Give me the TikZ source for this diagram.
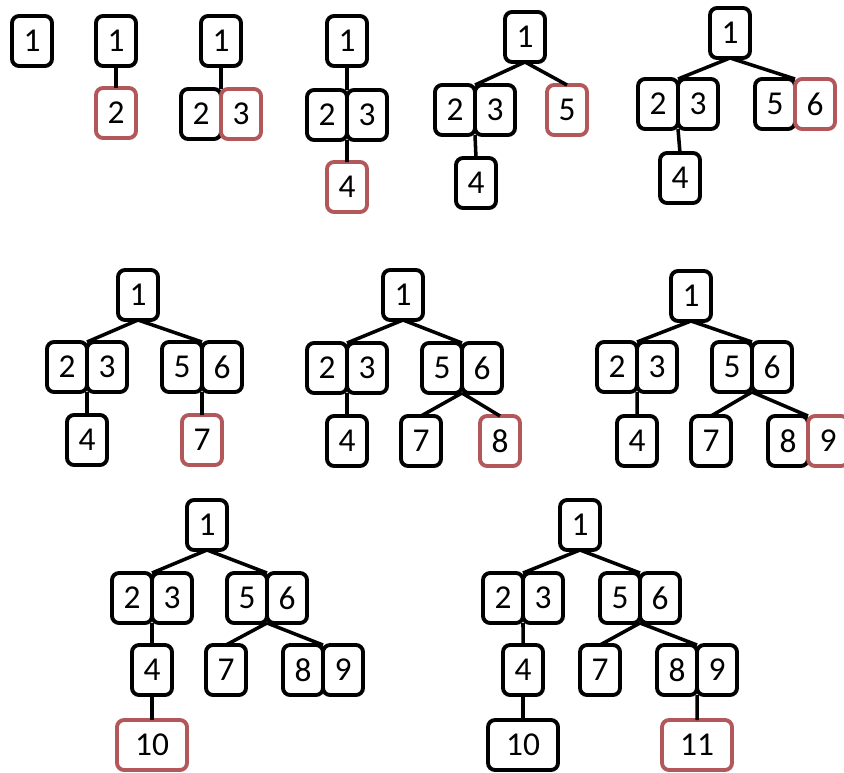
\documentclass[tikz,border=0pt]{standalone}
\usepackage{fontspec}
\setmainfont{Carlito}
\usepackage{tikz}
\definecolor{newred}{HTML}{B3585A}
\tikzset{
  every picture/.style={line join=round, line cap=butt},
  key/.style={draw=black, fill=white, line width=2.2pt, rounded corners=4pt,
    minimum width=0.8cm, minimum height=1.0cm, inner sep=0pt, outer sep=0pt,
    font=\fontsize{19}{22}\selectfont},
  newkey/.style={key, draw=newred},
  wide/.style={minimum width=1.4cm},
  link/.style={line width=2pt},
}

\begin{document}
\begin{tikzpicture}[x=0.02cm,y=-0.02cm]
\useasboundingbox (0,0) rectangle (844,773);
% step 1
\node[key] (a1) at (32,41) {1};
% step 2
\node[key] (b1) at (116,41) {1};
\node[newkey] (b2) at (116,113) {2};
\draw[link] (b1.south) -- (b2.north);
% step 3
\node[key] (c1) at (221,41) {1};
\node[key] (c2) at (201,114) {2};
\node[newkey] (c3) at (241,114) {3};
\draw[link] (c1.south) -- (c2.north east);
% step 4
\node[key] (d1) at (347,41) {1};
\node[key] (d2) at (327,115) {2};
\node[key] (d3) at (367,115) {3};
\node[newkey] (d4) at (347,187) {4};
\draw[link] (d1.south) -- (d2.north east);
\draw[link] (d2.south east) -- (d4.north);
% step 5
\node[key] (e1) at (525,37) {1};
\node[key] (e2) at (455,110) {2};
\node[key] (e3) at (495,110) {3};
\node[newkey] (e5) at (567,110) {5};
\node[key] (e4) at (476,183) {4};
\draw[link] (e1.south) -- (e2.north east);
\draw[link] (e1.south) -- (e5.north);
\draw[link] (e2.south east) -- (e4.north);
% step 6
\node[key] (f1) at (730,33) {1};
\node[key] (f2) at (658,104) {2};
\node[key] (f3) at (698,104) {3};
\node[key] (f5) at (775,104) {5};
\node[newkey] (f6) at (815,104) {6};
\node[key] (f4) at (680,178) {4};
\draw[link] (f1.south) -- (f2.north east);
\draw[link] (f1.south) -- (f5.north east);
\draw[link] (f2.south east) -- (f4.north);
% step 7
\node[key] (g1) at (138,295) {1};
\node[key] (g2) at (67,367) {2};
\node[key] (g3) at (107,367) {3};
\node[key] (g5) at (182,367) {5};
\node[key] (g6) at (222,367) {6};
\node[key] (g4) at (87,440) {4};
\node[newkey] (g7) at (202,440) {7};
\draw[link] (g1.south) -- (g2.north east);
\draw[link] (g1.south) -- (g5.north east);
\draw[link] (g2.south east) -- (g4.north);
\draw[link] (g5.south east) -- (g7.north);
% step 8
\node[key] (h1) at (403,295) {1};
\node[key] (h2) at (327,368) {2};
\node[key] (h3) at (367,368) {3};
\node[key] (h5) at (442,368) {5};
\node[key] (h6) at (482,368) {6};
\node[key] (h4) at (347,441) {4};
\node[key] (h7) at (421,441) {7};
\node[newkey] (h8) at (500,441) {8};
\draw[link] (h1.south) -- (h2.north east);
\draw[link] (h1.south) -- (h5.north east);
\draw[link] (h2.south east) -- (h4.north);
\draw[link] (h5.south east) -- (h7.north);
\draw[link] (h5.south east) -- (h8.north);
% step 9
\node[key] (i1) at (691,296) {1};
\node[key] (i2) at (617,367) {2};
\node[key] (i3) at (657,367) {3};
\node[key] (i5) at (732,367) {5};
\node[key] (i6) at (772,367) {6};
\node[key] (i4) at (637,441) {4};
\node[key] (i7) at (711,441) {7};
\node[key] (i8) at (788,441) {8};
\node[newkey] (i9) at (828,441) {9};
\draw[link] (i1.south) -- (i2.north east);
\draw[link] (i1.south) -- (i5.north east);
\draw[link] (i2.south east) -- (i4.north);
\draw[link] (i5.south east) -- (i7.north);
\draw[link] (i5.south east) -- (i8.north east);
% step 10
\node[key] (j1) at (207,525) {1};
\node[key] (j2) at (132,598) {2};
\node[key] (j3) at (172,598) {3};
\node[key] (j5) at (247,598) {5};
\node[key] (j6) at (287,598) {6};
\node[key] (j4) at (152,670) {4};
\node[key] (j7) at (226,670) {7};
\node[key] (j8) at (303,670) {8};
\node[key] (j9) at (343,670) {9};
\node[newkey,wide] (j10) at (152,745) {10};
\draw[link] (j1.south) -- (j2.north east);
\draw[link] (j1.south) -- (j5.north east);
\draw[link] (j2.south east) -- (j4.north);
\draw[link] (j5.south east) -- (j7.north);
\draw[link] (j5.south east) -- (j8.north east);
\draw[link] (j4.south) -- (j10.north);
% step 11
\node[key] (k1) at (580,525) {1};
\node[key] (k2) at (503,598) {2};
\node[key] (k3) at (543,598) {3};
\node[key] (k5) at (620,598) {5};
\node[key] (k6) at (660,598) {6};
\node[key] (k4) at (523,670) {4};
\node[key] (k7) at (600,670) {7};
\node[key] (k8) at (677,670) {8};
\node[key] (k9) at (717,670) {9};
\node[key,wide] (k10) at (523,745) {10};
\node[newkey,wide] (k11) at (697,745) {11};
\draw[link] (k1.south) -- (k2.north east);
\draw[link] (k1.south) -- (k5.north east);
\draw[link] (k2.south east) -- (k4.north);
\draw[link] (k5.south east) -- (k7.north);
\draw[link] (k5.south east) -- (k8.north east);
\draw[link] (k4.south) -- (k10.north);
\draw[link] (k8.south east) -- (k11.north);
\end{tikzpicture}
\end{document}
